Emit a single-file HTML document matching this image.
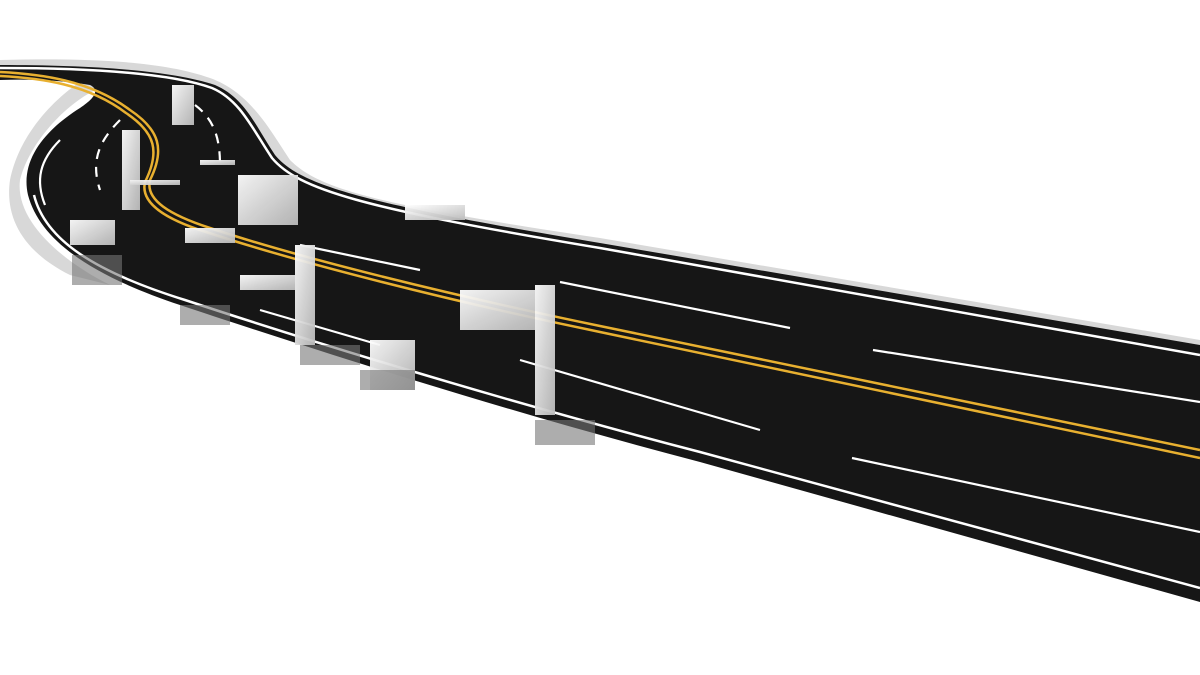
<!DOCTYPE html>
<html><head><meta charset="utf-8"><style>html,body{margin:0;padding:0;background:#fff;width:1200px;height:675px;overflow:hidden}</style></head>
<body>
<svg width="1200" height="675" viewBox="0 0 1200 675" xmlns="http://www.w3.org/2000/svg">
<defs>
<linearGradient id="g" x1="0" y1="0" x2="1" y2="1"><stop offset="0" stop-color="#fff"/><stop offset="1" stop-color="#bbb"/></linearGradient>
</defs>
<!-- glossy shadow outline -->
<path d="M0,60 C80,58 160,60 210,78 C250,92 270,130 290,160 C320,190 380,205 600,238 L1200,340 L1200,345 L600,246 C380,212 300,195 270,170 C250,140 230,100 200,92 C170,85 120,80 100,88 C70,100 30,140 20,180 C15,220 60,260 110,285 L70,275 C20,250 5,215 10,180 C20,130 60,95 80,82 C50,78 20,76 0,76Z" fill="#d8d8d8"/>
<!-- road -->
<path d="M0,65 C90,65 170,70 215,85 C245,98 255,125 275,155 C300,185 360,203 600,243 L1200,345 L1200,602 L700,462 C500,410 300,345 180,305 C90,275 40,240 28,195 C20,160 45,130 80,108 C95,98 100,90 90,85 C60,80 30,79 0,80Z" fill="#161616"/>
<!-- edge lines -->
<path d="M0,68 C90,68 170,73 212,88 C240,100 252,128 272,158 C298,189 360,208 600,248 L1200,355" fill="none" stroke="#fff" stroke-width="2.5"/>
<path d="M34,195 C45,240 95,272 185,300 C300,338 500,400 700,452 L1200,588" fill="none" stroke="#fff" stroke-width="2.5"/>
<!-- yellow -->
<path d="M0,72 C40,74 90,80 130,110 C160,130 165,150 150,180 C145,200 170,215 210,228 C300,258 450,295 600,326 L1200,450" fill="none" stroke="#e8b030" stroke-width="2.5"/>
<path d="M0,76 C40,78 88,84 126,113 C156,133 160,152 145,182 C140,203 165,219 206,232 C300,263 450,301 600,332 L1200,458" fill="none" stroke="#e8b030" stroke-width="2.5"/>
<!-- dashes -->
<g stroke="#fff" stroke-width="2.2" fill="none">
<path d="M560,282 L790,328"/><path d="M873,350 L1200,402"/>
<path d="M520,360 L760,430"/><path d="M852,458 L1200,532"/>
<path d="M300,245 L420,270"/><path d="M260,310 L380,345"/>
<path d="M195,105 C215,120 220,140 220,165" stroke-dasharray="10 8"/>
<path d="M120,120 C100,140 90,160 100,190" stroke-dasharray="10 8"/>
<path d="M60,140 C40,160 35,180 45,205"/>
</g>
<!-- glitch blocks -->
<g fill="url(#g)" opacity="0.95">
<rect x="172" y="85" width="22" height="40"/>
<rect x="122" y="130" width="18" height="80"/>
<rect x="130" y="180" width="50" height="5"/>
<rect x="238" y="175" width="60" height="50"/>
<rect x="185" y="228" width="50" height="15"/>
<rect x="240" y="275" width="60" height="15"/>
<rect x="295" y="245" width="20" height="100"/>
<rect x="460" y="290" width="80" height="40"/>
<rect x="535" y="285" width="20" height="130"/>
<rect x="70" y="220" width="45" height="25"/>
<rect x="370" y="340" width="45" height="50"/>
<rect x="200" y="160" width="35" height="5"/>
<rect x="405" y="205" width="60" height="15"/>
</g>
<g fill="#777" opacity="0.6">
<rect x="72" y="255" width="50" height="30"/>
<rect x="180" y="305" width="50" height="20"/>
<rect x="300" y="345" width="60" height="20"/>
<rect x="360" y="370" width="55" height="20"/>
<rect x="535" y="420" width="60" height="25"/>
</g>
</svg>
</body></html>
